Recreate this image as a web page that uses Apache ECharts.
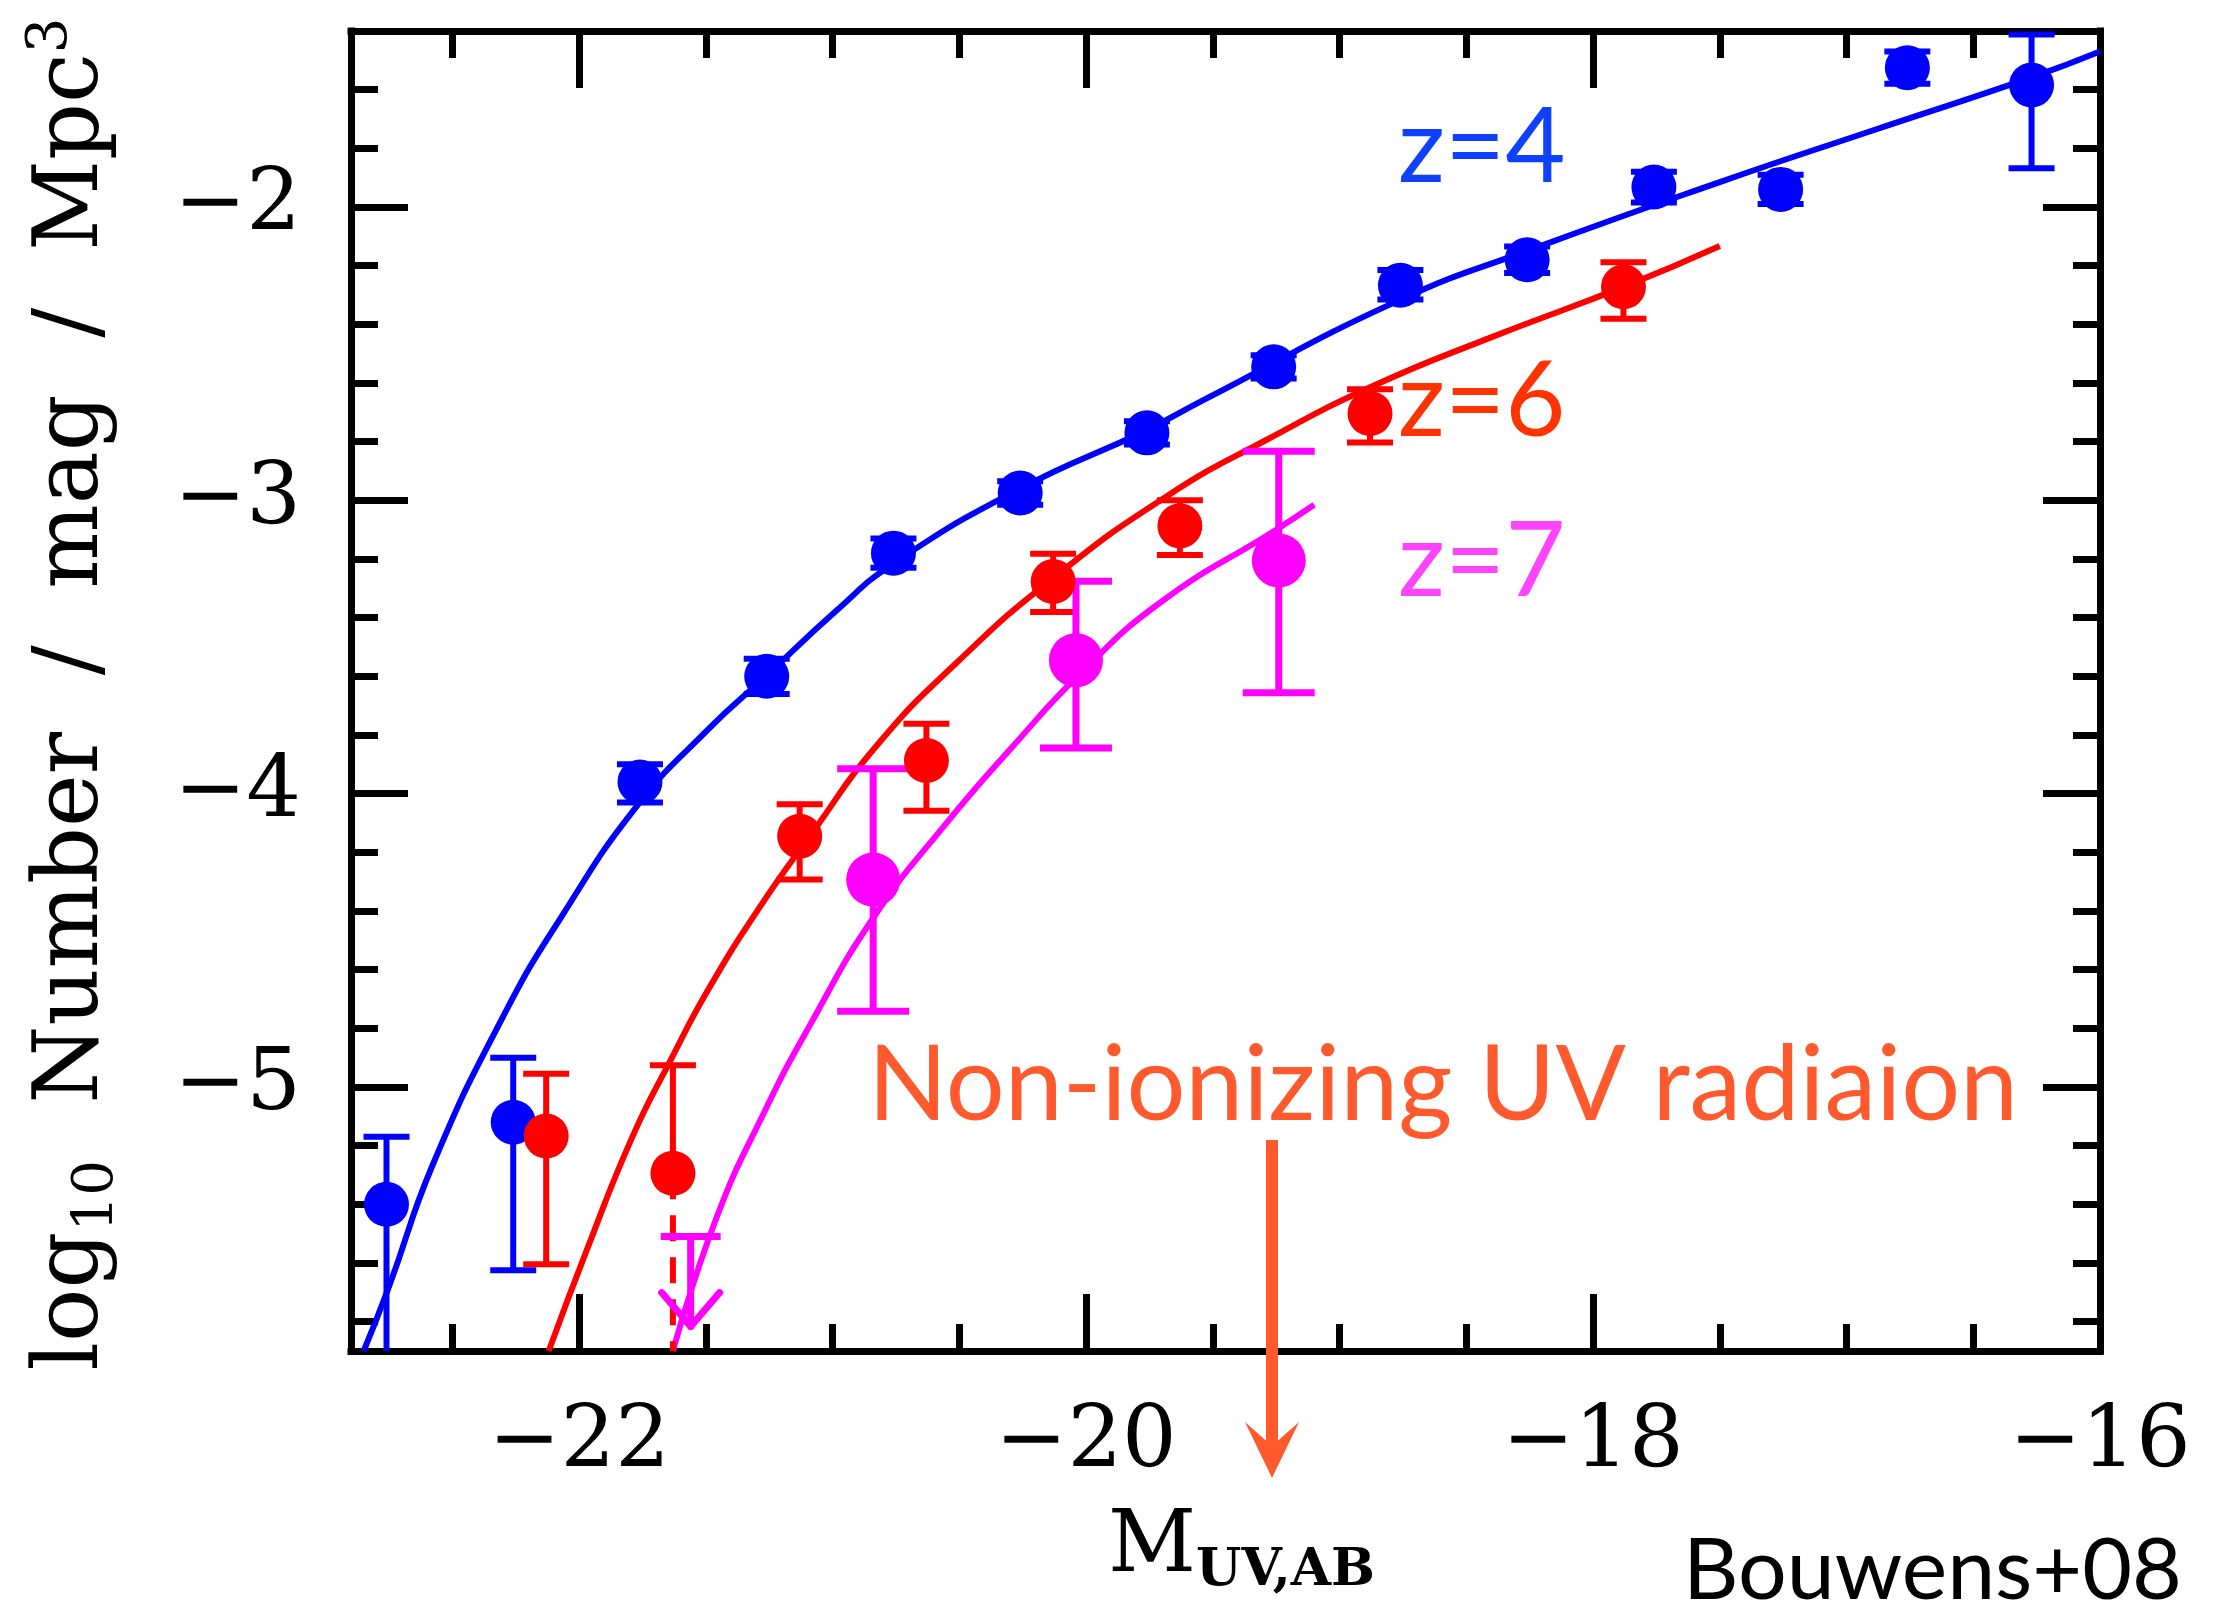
<!DOCTYPE html>
<html>
<head>
<meta charset="utf-8">
<title>UV luminosity functions at z = 4, 6, 7</title>
<script src="https://cdn.jsdelivr.net/npm/echarts@6/dist/echarts.min.js"></script>
<style>
  html, body { margin: 0; padding: 0; background: #ffffff; }
  #chart { width: 2222px; height: 1608px; }
</style>
</head>
<body>
<div id="chart"></div>
<script>
// ---- axis ranges and tick labels ----
const xRange = [-22.9, -16];
const yRange = [-5.9, -1.4];
const xMajorTicks = [-22, -20, -18, -16];
const xMinorTicks = [-22.5, -21.5, -21, -20.5, -19.5, -19, -18.5, -17.5, -17, -16.5];
const yMajorTicks = [-5, -4, -3, -2];
const yMinorTicks = [-5.8, -5.6, -5.4, -5.2, -4.8, -4.6, -4.4, -4.2, -3.8, -3.6, -3.4, -3.2,
                     -2.8, -2.6, -2.4, -2.2, -1.8, -1.6];

// ---- z = 4 (B-dropouts) ----
const M4    = [-22.76, -22.26, -21.76, -21.26, -20.76, -20.26, -19.76, -19.26, -18.76, -18.26, -17.76, -17.26, -16.76, -16.27];
const phi4  = [-5.40, -5.12, -3.96, -3.60, -3.18, -2.975, -2.77, -2.545, -2.267, -2.18, -1.932, -1.94, -1.525, -1.584];
const up4   = [-5.17, -4.90, -3.90, -3.54, -3.13, -2.935, -2.73, -2.505, -2.215, -2.135, -1.88, -1.89, -1.47, -1.412];
const low4  = [null, -5.625, -4.03, -3.66, -3.23, -3.015, -2.81, -2.585, -2.315, -2.225, -1.985, -1.99, -1.58, -1.868];
const fit4M   = [-22.85, -22.75, -22.575, -22.30, -22.07, -21.77, -21.49, -21.27, -20.99, -20.76, -20.26, -19.76, -19.53, -18.77, -18.23, -17.50, -16.90, -16.27, -16.0];
const fit4Phi = [-5.90, -5.68, -5.26, -4.76, -4.42, -4.04, -3.78, -3.605, -3.38, -3.215, -2.96, -2.76, -2.655, -2.32, -2.14, -1.915, -1.74, -1.558, -1.47];

// ---- z = 6 (i-dropouts) ----
const M6    = [-22.13, -21.63, -21.13, -20.63, -20.13, -19.63, -18.88, -17.88];
const phi6  = [-5.167, -5.294, -4.145, -3.887, -3.277, -3.087, -2.704, -2.272];
const up6   = [-4.955, -4.926, -4.036, -3.762, -3.182, -3.00, -2.621, -2.188];
const low6  = [-5.604, null, -4.293, -4.058, -3.381, -3.186, -2.803, -2.381];
const fit6M   = [-22.12, -21.97, -21.79, -21.64, -21.49, -21.29, -21.09, -20.82, -20.51, -20.13, -19.68, -19.28, -18.86, -18.41, -17.87, -17.50];
const fit6Phi = [-5.90, -5.556, -5.17, -4.91, -4.667, -4.39, -4.145, -3.83, -3.553, -3.265, -2.985, -2.79, -2.607, -2.447, -2.269, -2.133];

// ---- z = 7 (z-dropouts) ----
const M7    = [-20.84, -20.04, -19.24];
const phi7  = [-4.293, -3.545, -3.205];
const up7   = [-3.915, -3.276, -2.833];
const low7  = [-4.742, -3.844, -3.656];
const M7lim   = [-21.56];
const phi7lim = [-5.51];
const fit7M   = [-21.63, -21.46, -21.27, -21.09, -20.84, -20.56, -20.28, -20.03, -19.71, -19.25, -19.10];
const fit7Phi = [-5.90, -5.45, -5.086, -4.79, -4.424, -4.11, -3.83, -3.597, -3.35, -3.10, -3.015];

// ---- colours ----
const BLUE = '#0000ff', RED = '#ff0000', MAGENTA = '#ff00ff';
const ORANGE = '#ff5a2d';
const SERIF = '"DejaVu Serif", serif';
const SANS = 'Lato, "Open Sans", sans-serif';

const pairs = (xs, ys) => xs.map((x, i) => [x, ys[i]]);
const fmtMinus = v => String(v).replace('-', '\u2212');

// error bar rows: [M, upper, lower (or axis floor), value, has lower cap]
function errRows(M, phi, up, low) {
  return M.map((m, i) => [m, up[i], low[i] === null ? yRange[0] : low[i], phi[i], low[i] === null ? 0 : 1]);
}

function errorBars(color, capW, lw, openDash) {
  return function (params, api) {
    const x = api.value(0), hi = api.value(1), lo = api.value(2), val = api.value(3), capLo = api.value(4);
    const pHi = api.coord([x, hi]);
    const pLo = api.coord([x, lo]);
    const pVal = api.coord([x, val]);
    const st = { stroke: color, lineWidth: lw, lineCap: 'butt' };
    const kids = [];
    if (capLo) {
      kids.push({ type: 'line', shape: { x1: pHi[0], y1: pHi[1], x2: pLo[0], y2: pLo[1] }, style: st });
      kids.push({ type: 'line', shape: { x1: pLo[0] - capW / 2, y1: pLo[1], x2: pLo[0] + capW / 2, y2: pLo[1] }, style: st });
    } else {
      kids.push({ type: 'line', shape: { x1: pHi[0], y1: pHi[1], x2: pVal[0], y2: pVal[1] }, style: st });
      kids.push({ type: 'line', shape: { x1: pVal[0], y1: pVal[1], x2: pLo[0], y2: pLo[1] },
                  style: Object.assign({}, st, openDash ? { lineDash: openDash } : {}) });
    }
    kids.push({ type: 'line', shape: { x1: pHi[0] - capW / 2, y1: pHi[1], x2: pHi[0] + capW / 2, y2: pHi[1] }, style: st });
    return { type: 'group', children: kids };
  };
}

// upper limit: bar at the limit with a downward arrow
function upperLimit(color, capW, lw) {
  return function (params, api) {
    const p = api.coord([api.value(0), api.value(1)]);
    const len = 90, aw = 29, ah = 34;
    const st = { stroke: color, lineWidth: lw, lineCap: 'round', lineJoin: 'round', fill: null };
    return {
      type: 'group',
      children: [
        { type: 'line', shape: { x1: p[0] - capW / 2, y1: p[1], x2: p[0] + capW / 2, y2: p[1] }, style: Object.assign({}, st, { lineCap: 'butt' }) },
        { type: 'line', shape: { x1: p[0], y1: p[1], x2: p[0], y2: p[1] + len }, style: st },
        { type: 'polyline', shape: { points: [[p[0] - aw, p[1] + len - ah], [p[0], p[1] + len], [p[0] + aw, p[1] + len - ah]] }, style: st }
      ]
    };
  };
}

function curve(xs, ys, color) {
  return {
    type: 'line', data: pairs(xs, ys), showSymbol: false, smooth: 0.5,
    lineStyle: { color: color, width: 6 }, clip: true, silent: true, z: 3
  };
}
function markers(xs, ys, color, size) {
  return {
    type: 'scatter', data: pairs(xs, ys), symbol: 'circle', symbolSize: size,
    itemStyle: { color: color, opacity: 1 }, silent: true, z: 4
  };
}
function bars(M, phi, up, low, color, capW, lw, dash) {
  return {
    type: 'custom', data: errRows(M, phi, up, low), renderItem: errorBars(color, capW, lw, dash),
    clip: true, silent: true, z: 4
  };
}

const axisLineStyle = { show: true, onZero: false, lineStyle: { color: '#000', width: 7, cap: 'square' } };

function xAxisDef(position, ticks, len, labels, line) {
  return {
    type: 'value', min: xRange[0], max: xRange[1], position: position,
    axisLine: line ? axisLineStyle : { show: false, onZero: false },
    axisTick: { show: true, inside: true, length: len, customValues: ticks, lineStyle: { color: '#000', width: 7 } },
    axisLabel: labels ? {
      show: true, customValues: ticks, formatter: fmtMinus, margin: 50,
      fontFamily: SERIF, fontSize: 86, color: '#000'
    } : { show: false },
    splitLine: { show: false }
  };
}
function yAxisDef(position, ticks, len, labels, line) {
  return {
    type: 'value', min: yRange[0], max: yRange[1], position: position,
    axisLine: line ? axisLineStyle : { show: false, onZero: false },
    axisTick: { show: true, inside: true, length: len, customValues: ticks, lineStyle: { color: '#000', width: 7 } },
    axisLabel: labels ? {
      show: true, customValues: ticks, formatter: fmtMinus, margin: 50,
      fontFamily: SERIF, fontSize: 86, color: '#000'
    } : { show: false },
    splitLine: { show: false }
  };
}

const chart = echarts.init(document.getElementById('chart'), null, { renderer: 'canvas' });

chart.setOption({
  backgroundColor: '#ffffff',
  animation: false,
  grid: { left: 351, top: 31, width: 1749, height: 1320, containLabel: false },
  xAxis: [
    xAxisDef('bottom', xMajorTicks, 57, true, true),
    xAxisDef('bottom', xMinorTicks, 27, false, false),
    xAxisDef('top', xMajorTicks, 57, false, true),
    xAxisDef('top', xMinorTicks, 27, false, false)
  ],
  yAxis: [
    yAxisDef('left', yMajorTicks, 57, true, true),
    yAxisDef('left', yMinorTicks, 27, false, false),
    yAxisDef('right', yMajorTicks, 57, false, true),
    yAxisDef('right', yMinorTicks, 27, false, false)
  ],
  series: [
    bars(M4, phi4, up4, low4, BLUE, 46, 6, null),
    curve(fit4M, fit4Phi, BLUE),
    markers(M4, phi4, BLUE, 45),

    bars(M6, phi6, up6, low6, RED, 46, 6, [26, 16]),
    curve(fit6M, fit6Phi, RED),
    markers(M6, phi6, RED, 45),

    bars(M7, phi7, up7, low7, MAGENTA, 72, 7, null),
    { type: 'custom', data: pairs(M7lim, phi7lim), renderItem: upperLimit(MAGENTA, 60, 7), clip: false, silent: true, z: 5 },
    curve(fit7M, fit7Phi, MAGENTA),
    markers(M7, phi7, MAGENTA, 54)
  ],
  graphic: [
    // redshift labels
    { type: 'text', left: 1398, top: 96, z: 10,
      style: { text: 'z=4', fill: '#1040ff', font: '104px ' + SANS } },
    { type: 'text', left: 1398, top: 350, z: 10,
      style: { text: 'z=6', fill: '#ff3300', font: '104px ' + SANS } },
    { type: 'text', left: 1398, top: 510, z: 10,
      style: { text: 'z=7', fill: '#ff44ff', font: '104px ' + SANS } },
    // annotation
    { type: 'text', left: 868, top: 1034, z: 10,
      style: { text: 'Non-ionizing UV radiaion', fill: ORANGE, font: '104px ' + SANS } },
    { type: 'line', z: 10, shape: { x1: 1272, y1: 1140, x2: 1272, y2: 1455 },
      style: { stroke: ORANGE, lineWidth: 12 } },
    { type: 'polygon', z: 10, shape: { points: [[1245, 1422], [1272, 1478], [1299, 1422], [1272, 1446]] },
      style: { fill: ORANGE } },
    // credit
    { type: 'text', right: 40, top: 1528, z: 10,
      style: { text: 'Bouwens+08', fill: '#000', font: '86px ' + SANS } },
    // x-axis title
    { type: 'text', left: 1108, top: 1506, z: 10,
      style: {
        text: '{m|M}{s|UV,AB}', fill: '#000',
        rich: {
          m: { fontFamily: SERIF, fontSize: 86, fill: '#000' },
          s: { fontFamily: SERIF, fontSize: 52, fontWeight: 'bold', fill: '#000', padding: [44, 0, 0, 0] }
        }
      } },
    // y-axis title
    { type: 'text', x: 74, y: 694, rotation: Math.PI / 2, z: 10,
      style: {
        text: '{a|log}{s|10}{a|  Number  /  mag  /  Mpc}{p|3}', fill: '#000',
        align: 'center', verticalAlign: 'middle',
        rich: {
          a: { fontFamily: SERIF, fontSize: 89, fill: '#000' },
          s: { fontFamily: SERIF, fontSize: 56, fill: '#000', padding: [46, 0, 0, 0] },
          p: { fontFamily: SERIF, fontSize: 56, fill: '#000', padding: [0, 0, 46, 0] }
        }
      } }
  ]
});
</script>
</body>
</html>
